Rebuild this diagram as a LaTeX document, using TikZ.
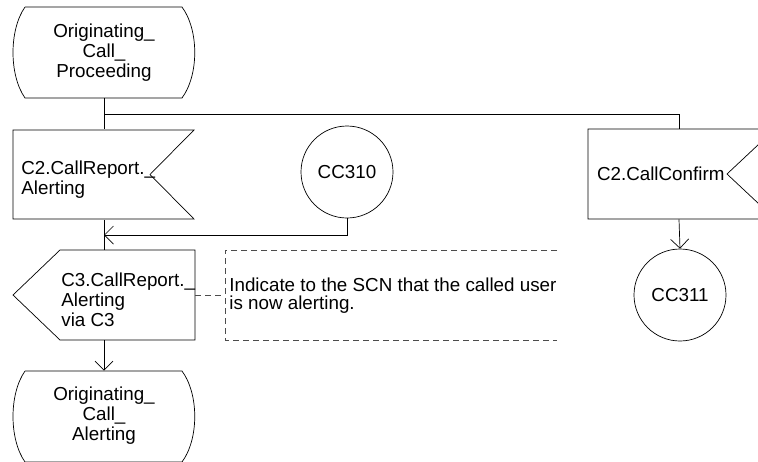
\documentclass[tikz,border=0pt]{standalone}
\usepackage{fontspec}
\setmainfont{Liberation Sans}
\usetikzlibrary{arrows.meta}

\begin{document}
\begin{tikzpicture}[x=1pt, y=-1pt, line width=0.7pt,
		every node/.style={inner sep=0pt, font=\fontsize{18.8}{20}\selectfont},
		symbol/.style={minimum width=182pt, minimum height=90pt},
		conn/.style={circle, draw, minimum size=92pt},
		flow/.style={-{Straight Barb[length=9pt, width=18pt]}},
		notebox/.style={dash pattern=on 6pt off 4pt, black!70}
		]
	\useasboundingbox (0,0) rectangle (758,461);
	\clip (0,0) rectangle (758,461);

	% start state
	\draw (25,7) -- (182,7) .. controls (199,30) and (199,75) .. (182,98)
		-- (25,98) .. controls (9,75) and (9,30) .. (25,7);
	\node[symbol, align=center] (proc) at (104,52.5) {Originating\_\\Call\_\\Proceeding};

	% input from C2
	\draw (13,130) -- (194,130) -- (150,174.5) -- (194,219) -- (13,219) -- cycle;
	\node[symbol] (rep) at (104,174.5) {};
	\node[anchor=west, align=left] (reptext) at (21,180) {C2.CallReport.\_\\Alerting};

	\node[conn] (cc310) at (347,172) {CC310};

	% output to C3
	\draw (60,250) -- (195,250) -- (195,340) -- (60,340) -- (13,295) -- cycle;
	\node[symbol] (fwd) at (104,295) {};
	\node[anchor=west, align=left] (fwdtext) at (61,300) {C3.CallReport.\_\\Alerting\\via C3};

	% next state
	\draw (25,371) -- (182,371) .. controls (199,394) and (199,439) .. (182,462)
		-- (25,462) .. controls (9,439) and (9,394) .. (25,371);
	\node[symbol, align=center] (alert) at (104,416) {Originating\_\\Call\_\\Alerting};

	% comment
	\node[anchor=west, align=left, font=\fontsize{18.8}{18}\selectfont] (note) at (229,296)
		{Indicate to the SCN that the called user\\is now alerting.};
	\draw[notebox] (557,250) -- (225,250) -- (225,340) -- (557,340);
	\coordinate (notepin) at (225,295);

	% other input
	\draw (588,129) -- (775,129) -- (727,174) -- (775,219) -- (588,219) -- cycle;
	\node[symbol, text width=164pt, align=left] (conf) at (679,174) {C2.CallConfirm};

	\node[conn] (cc311) at (680,295) {CC311};

	% connectors
	\coordinate (merge) at (104,235);
	\draw (proc.south) -- (rep.north);
	\draw (proc.south |- 0,114) -| (conf.north);
	\draw (rep.south) -- (fwd.north);
	\draw[flow] (cc310.south) |- (merge);
	\draw[flow] (fwd.south) -- (alert.north);
	\draw[flow] (conf.south) -- (cc311.north);
	\draw[notebox] (fwd.east) -- (notepin);
\end{tikzpicture}
\end{document}
